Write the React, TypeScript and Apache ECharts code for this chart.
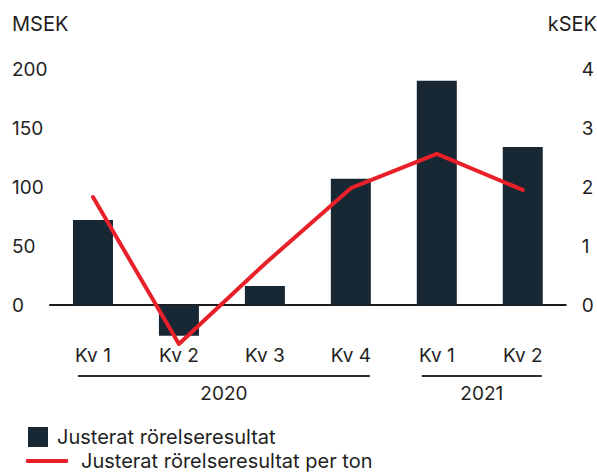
import React, { useEffect, useRef } from "react";
import * as echarts from "echarts";

const categories = ["Kv 1", "Kv 2", "Kv 3", "Kv 4", "Kv 1", "Kv 2"];
const years = ["2020", "2021"];
const yearSpans: [number, number][] = [[0, 3], [4, 5]];
const barValues = [72, -26, 16, 107, 190, 134];
const lineValues = [1.83, -0.66, 0.7, 1.98, 2.56, 1.95];
const barName = "Justerat rörelseresultat";
const lineName = "Justerat rörelseresultat per ton";

const FONT = "Inter";
const TEXT = "#1f1f1f";
const FS = 19;
const LFS = 20;

export default function App() {
  const ref = useRef<HTMLDivElement>(null);
  useEffect(() => {
    const chart = echarts.init(ref.current!, null, { renderer: "svg" });
    chart.setOption({
      animation: false,
      textStyle: { fontFamily: FONT },
      grid: { left: 50, right: 28, top: 69, bottom: 109, containLabel: false },
      legend: [
        {
          data: [barName],
          left: 23,
          top: 422,
          itemWidth: 20,
          itemHeight: 20,
          icon: "rect",
          textStyle: { fontSize: LFS, color: TEXT, fontFamily: FONT, padding: [0, 0, 0, 4] },
        },
        {
          data: [{ name: lineName, icon: "roundRect" }],
          left: 21,
          top: 446,
          itemWidth: 42,
          itemHeight: 4,
          textStyle: { fontSize: LFS, color: TEXT, fontFamily: FONT, padding: [0, 0, 0, 8] },
        },
      ],
      xAxis: {
        type: "category",
        data: categories,
        axisTick: { show: false },
        axisLine: { onZero: true, lineStyle: { color: "#1a1a1a", width: 2 } },
        axisLabel: { fontSize: FS, color: TEXT, margin: -18, fontFamily: FONT },
      },
      yAxis: [
        {
          type: "value",
          min: -50,
          max: 200,
          interval: 50,
          splitLine: { show: false },
          axisLine: { show: false },
          axisTick: { show: false },
          axisLabel: {
            fontSize: FS,
            color: TEXT,
            align: "left",
            margin: 38,
            padding: [0, 0, 8, 0],
            fontFamily: FONT,
            formatter: (v: number) => (v < 0 ? "" : String(v)),
          },
        },
        {
          type: "value",
          min: -1,
          max: 4,
          interval: 1,
          position: "right",
          splitLine: { show: false },
          axisLine: { show: false },
          axisTick: { show: false },
          axisLabel: {
            fontSize: FS,
            color: TEXT,
            align: "left",
            margin: 16,
            padding: [0, 0, 8, 0],
            fontFamily: FONT,
            formatter: (v: number) => (v < 0 ? "" : String(v)),
          },
        },
      ],
      series: [
        {
          name: barName,
          type: "bar",
          data: barValues,
          barWidth: 40,
          itemStyle: { color: "#172834" },
          yAxisIndex: 0,
        },
        {
          name: lineName,
          type: "line",
          data: lineValues,
          yAxisIndex: 1,
          symbol: "none",
          lineStyle: { color: "#e8202a", width: 4, cap: "round", join: "round" },
          itemStyle: { color: "#e8202a" },
        },
      ],
    });

    const px = (i: number) => chart.convertToPixel({ xAxisIndex: 0 }, i) as number;
    const groupElems: any[] = [];
    yearSpans.forEach(([a, b], k) => {
      const x1 = px(a) - 15;
      const x2 = px(b) + 19;
      groupElems.push({
        type: "line",
        shape: { x1, y1: 376, x2, y2: 376 },
        style: { stroke: "#2a2a2a", lineWidth: 2 },
      });
      groupElems.push({
        type: "text",
        x: (x1 + x2) / 2,
        y: 393,
        style: {
          text: years[k],
          fontSize: FS,
          fontFamily: FONT,
          fill: TEXT,
          align: "center",
          verticalAlign: "middle",
        },
      });
    });
    groupElems.push({
      type: "text",
      x: 12,
      y: 24,
      style: { text: "MSEK", fontSize: 20, fontFamily: FONT, fill: TEXT, align: "left", verticalAlign: "middle" },
    });
    groupElems.push({
      type: "text",
      x: 597,
      y: 24,
      style: { text: "kSEK", fontSize: 20, fontFamily: FONT, fill: TEXT, align: "right", verticalAlign: "middle" },
    });
    chart.setOption({ graphic: groupElems });

    return () => chart.dispose();
  }, []);
  return (
    <div
      ref={ref}
      style={{ position: "fixed", left: 0, top: 0, width: 597, height: 473, background: "#fff" }}
    />
  );
}
